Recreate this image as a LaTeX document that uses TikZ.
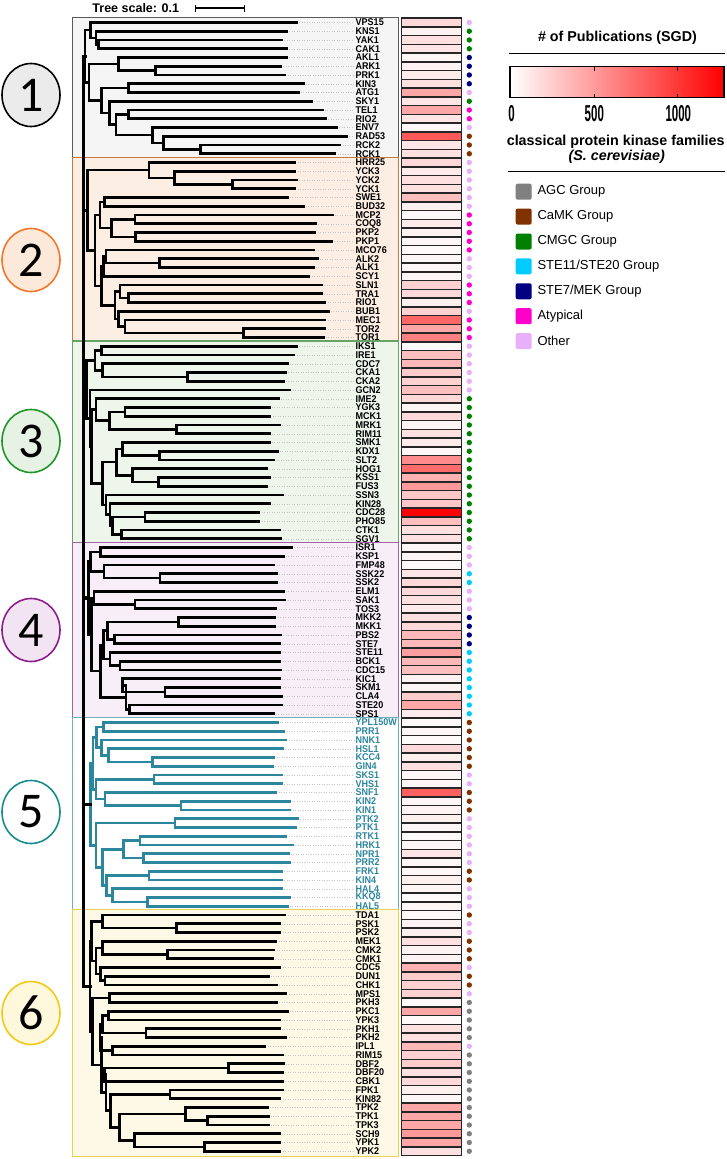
\documentclass[tikz,border=0pt]{standalone}
\usepackage{fontspec}
\setmainfont{Liberation Sans}
\newfontfamily\numfont{Carlito}
\newfontfamily\narrowfont[FakeStretch=0.5]{Liberation Sans}
\newfontfamily\leaffont[FakeStretch=0.92]{Liberation Sans}
\usepackage{tikz}
\usetikzlibrary{calc, shapes.geometric, arrows.meta}

\definecolor{agc}{RGB}{128,128,128}
\definecolor{camk}{RGB}{128,51,0}
\definecolor{cmgc}{RGB}{0,128,0}
\definecolor{steb}{RGB}{0,204,255}
\definecolor{stea}{RGB}{0,0,128}
\definecolor{atyp}{RGB}{255,0,204}
\definecolor{oth}{RGB}{232,175,250}
\definecolor{gfive}{RGB}{44,134,158}
\definecolor{boxAf}{RGB}{245,245,245}\definecolor{boxAd}{RGB}{90,90,90}
\definecolor{boxBf}{RGB}{253,238,228}\definecolor{boxBd}{RGB}{200,120,60}
\definecolor{boxCf}{RGB}{238,246,236}\definecolor{boxCd}{RGB}{100,165,100}
\definecolor{boxDf}{RGB}{247,238,247}\definecolor{boxDd}{RGB}{160,100,165}
\definecolor{boxEf}{RGB}{255,255,255}\definecolor{boxEd}{RGB}{110,175,190}
\definecolor{boxFf}{RGB}{254,249,230}\definecolor{boxFd}{RGB}{235,210,80}
\definecolor{numAf}{RGB}{235,235,235}\definecolor{numAd}{RGB}{0,0,0}
\definecolor{numBf}{RGB}{253,233,218}\definecolor{numBd}{RGB}{240,120,40}
\definecolor{numCf}{RGB}{230,242,228}\definecolor{numCd}{RGB}{30,150,40}
\definecolor{numDf}{RGB}{242,228,242}\definecolor{numDd}{RGB}{140,30,140}
\definecolor{numEf}{RGB}{255,255,255}\definecolor{numEd}{RGB}{20,140,140}
\definecolor{numFf}{RGB}{255,248,220}\definecolor{numFd}{RGB}{245,200,20}

\tikzset{
  branch/.style={line width=2.6pt, line cap=rect},
  leader/.style={gray!45, dotted, line width=0.5pt},
  leaflab/.style={anchor=west, inner sep=0pt, font=\leaffont\bfseries\fontsize{9.8}{9.8}\selectfont},
  heatcell/.style={draw=black!85, line width=1.5pt},
  grpbox/.style={line width=1.1pt},
  grpnum/.style={ellipse, minimum width=58pt, minimum height=63pt, inner sep=0pt, line width=1.6pt,
    font=\numfont\fontsize{50}{50}\selectfont},
  legsq/.style={rounded corners=2pt, minimum size=16pt, inner sep=0pt},
  legtxt/.style={anchor=west, inner sep=0pt, font=\fontsize{13}{13}\selectfont},
  legtitle/.style={font=\bfseries\fontsize{14.3}{14.3}\selectfont}
}

\newcommand\clade[5][]{%
  \path let \p1=(#4), \p2=(#5) in coordinate (#2) at (#3pt,{0.5*(\y1+\y2)});
  \draw[branch,#1] (#2) |- (#4) (#2) |- (#5);}

\begin{document}
\begin{tikzpicture}[x=1pt, y=-8.75pt]
\begin{scope}[y=-1pt, yshift=13.75pt]
\useasboundingbox (0,0) rectangle (727,1159);
% scale bar
\node[font=\bfseries\fontsize{12.5}{12.5}\selectfont] (tscale) at (135.8,8) {Tree scale: 0.1};
\coordinate (sbl) at (195,8);
\coordinate (sbr) at (245,8);
\draw[{Bar[width=7pt]}-{Bar[width=7pt]}, line width=1.3pt] (sbl) -- (sbr);
% group numbers
\foreach \n/\y/\c in {1/95/A, 2/260/B, 3/441/C, 4/630/D, 5/812/E, 6/1013/F}
  \node[grpnum, fill=num\c f, draw=num\c d] (num\n) at (31,\y) {\n};
% publications legend
\node[legtitle] (pubtitle) at (617.5,38) {\# of Publications (SGD)};
\draw[line width=1.3pt] (509,53.3) -- (725,53.3);
\node[draw, line width=1.2pt, left color=white, right color=red, minimum width=214pt,
  minimum height=31pt, inner sep=0pt] (cbar) at (617,82.3) {};
\foreach \x in {594,677.7} {
  \draw[line width=1pt] (\x,66.8) -- ++(0,4);
  \draw[line width=1pt] (\x,97.8) -- ++(0,-4);
}
\foreach \x/\t in {511.5/0, 594.3/500, 678.3/1000}
  \node[font=\narrowfont\bfseries\fontsize{23}{23}\selectfont] (tick\t) at (\x,114) {\t};
% family legend
\node[legtitle] (famtitle) at (615.7,141.7) {classical protein kinase families};
\node[legtitle, font=\bfseries\itshape\fontsize{14.3}{14.3}\selectfont] (famsub) at (616.7,156.7) {(S. cerevisiae)};
\draw[line width=1.3pt] (508.3,171.7) -- (725,171.7);
\foreach \f/\txt [count=\i from 0] in {agc/AGC Group, camk/CaMK Group, cmgc/CMGC Group,
    steb/{STE11/STE20 Group}, stea/{STE7/MEK Group}, atyp/Atypical, oth/Other} {
  \node[legsq, fill=\f] (sq-\f) at (523.7,191.7+24.9*\i) {};
  \node[legtxt] (tx-\f) at (537.3,191.7+24.9*\i) {\txt};
}
\end{scope}

% group boxes
\foreach \a/\b/\c in {0.4/16.4/A, 16.4/37.4/B, 37.4/60.4/C, 60.4/80.4/D, 80.4/102.4/E, 102.4/130.6/F}
  \draw[grpbox, fill=box\c f, draw=box\c d] (72.5,\a) rectangle (398.5,\b);

% leaves, heat map, families
\foreach \g/\t/\v/\f [count=\r] in {
  VPS15/296.7/15/oth, KNS1/286.7/5/cmgc, YAK1/281.7/12/cmgc, CAK1/286.7/10/cmgc,
  AKL1/286.7/4/stea, ARK1/280.7/5/stea, PRK1/285/8/stea, KIN3/303.3/12/stea,
  ATG1/298.3/35/oth, SKY1/311.7/10/cmgc, TEL1/322.3/35/atyp, RIO2/325.7/10/atyp,
  ENV7/336.7/3/oth, RAD53/346.7/65/camk, RCK2/340/10/camk, RCK1/335/12/camk,
  HRR25/295/15/oth, YCK3/295/8/oth, YCK2/296.7/12/oth, YCK1/295/12/oth,
  SWE1/287.3/25/oth, BUD32/303.3/6/oth, MCP2/332.3/3/atyp, COQ8/315.7/8/atyp,
  PKP2/315/5/atyp, PKP1/331.7/3/atyp, MCO76/313.3/2/atyp, ALK2/317.3/3/oth,
  ALK1/313.3/3/oth, SCY1/309/3/oth, SLN1/321.7/18/atyp, TRA1/321.7/15/atyp,
  RIO1/325/6/atyp, BUB1/328.3/18/oth, MEC1/325/60/atyp, TOR2/325/35/atyp,
  TOR1/323.3/50/atyp,
  IKS1/296.7/2/oth, IRE1/294/25/oth, CDC7/287.3/28/oth, CKA1/285.7/20/oth,
  CKA2/283.3/18/oth, GCN2/290/25/oth, IME2/278.3/15/cmgc, YGK3/269.3/4/cmgc,
  MCK1/270/15/cmgc, MRK1/279.3/4/cmgc, RIM11/269.3/12/cmgc, SMK1/269.3/8/cmgc,
  KDX1/277.3/3/cmgc, SLT2/273.3/45/cmgc, HOG1/266.7/58/cmgc, KSS1/270/30/cmgc,
  FUS3/266.7/40/cmgc, SSN3/282.7/22/cmgc, KIN28/269.3/22/cmgc, CDC28/259/100/cmgc,
  PHO85/259/25/cmgc, CTK1/280/12/cmgc, SGV1/280.7/12/cmgc,
  ISR1/291.7/3/oth, KSP1/283.3/4/oth, FMP48/274/2/oth, SSK22/276.7/10/steb,
  SSK2/276.7/15/steb, ELM1/283.3/15/oth, SAK1/285/12/oth, TOS3/276/8/oth,
  MKK2/275/12/stea, MKK1/275/15/stea, PBS2/280.7/28/stea, STE7/279.3/28/stea,
  STE11/280/38/steb, BCK1/280/28/steb, CDC15/280.7/25/steb, KIC1/279.3/5/steb,
  SKM1/280/4/steb, CLA4/281.7/20/steb, STE20/281.7/35/steb, SPS1/273.3/8/steb,
  YPL150W/277.3/2/camk, PRR1/284/3/camk, NNK1/286/2/camk, HSL1/282.7/15/camk,
  KCC4/274/6/camk, GIN4/272.7/12/camk, SKS1/281.7/3/oth, VHS1/281.7/3/oth,
  SNF1/276/62/camk, KIN2/289.3/3/camk, KIN1/290/5/camk, PTK2/297.7/6/oth,
  PTK1/296/3/oth, RTK1/286/2/oth, HRK1/292.7/3/oth, NPR1/288.3/10/oth,
  PRR2/289.3/3/oth, FRK1/281.7/3/camk, KIN4/281.7/6/camk, HAL4/281.7/4/oth,
  KKQ8/289.3/2/oth, HAL5/287.3/4/oth,
  TDA1/285/2/camk, PSK1/279.3/5/oth, PSK2/280/6/oth, MEK1/276/12/camk,
  CMK2/274/5/camk, CMK1/272.7/5/camk, CDC5/280/30/oth, DUN1/268.3/20/camk,
  CHK1/276.7/18/camk, MPS1/286/18/oth, PKH3/276.7/2/agc, PKC1/287.3/35/agc,
  YPK3/279.3/2/agc, PKH1/279.3/12/agc, PKH2/286/12/agc, IPL1/265/28/oth,
  RIM15/282.7/18/agc, DBF2/283.3/20/agc, DBF20/282.7/12/agc, CBK1/282.7/15/agc,
  FPK1/282.7/6/agc, KIN82/280/3/agc, TPK2/267.3/35/agc, TPK1/268.3/35/agc,
  TPK3/268.3/35/agc, SCH9/279.3/40/agc, YPK1/279.3/35/agc, YPK2/280/12/agc} {
  \ifnum\r>80 \ifnum\r<103 \def\lc{gfive}\else\def\lc{black}\fi\else\def\lc{black}\fi
  \coordinate (\g) at (\t,\r);
  \draw[leader] (\g) -- (354,\r);
  \node[leaflab, text=\lc] (lab-\g) at (355.5,\r) {\g};
  \draw[heatcell, fill=red!\v!white] (401.5,\r-0.5) rectangle (461.5,\r+0.5);
  \fill[fill=\f] (469.3,\r) circle[radius=2.7pt];
}

% group 1
\clade{c1a}{98.3}{YAK1}{CAK1}
\clade{c1b}{96}{KNS1}{c1a}
\clade{c1c}{90.7}{VPS15}{c1b}
\clade{c1d}{155.7}{ARK1}{PRK1}
\clade{c1e}{118.3}{AKL1}{c1d}
\clade{c1f}{128.3}{KIN3}{ATG1}
\clade{c1g}{128.3}{TEL1}{RIO2}
\clade{c1h}{200.7}{RCK2}{RCK1}
\clade{c1i}{163.3}{RAD53}{c1h}
\clade{c1j}{152.7}{ENV7}{c1i}
\clade{c1k}{116}{c1g}{c1j}
\clade{c1l}{109.3}{SKY1}{c1k}
\clade{c1m}{101.7}{c1f}{c1l}
\clade{c1n}{89}{c1e}{c1m}
\clade{g1}{85}{c1c}{c1n}
% group 2
\clade{c2a}{232.3}{YCK2}{YCK1}
\clade{c2b}{174.3}{YCK3}{c2a}
\clade{c2c}{149}{HRR25}{c2b}
\clade{c2d}{104.3}{SWE1}{BUD32}
\clade{c2e}{135}{MCP2}{COQ8}
\clade{c2f}{135.7}{PKP2}{PKP1}
\clade{c2g}{111.7}{c2e}{c2f}
\clade{c2h}{100}{c2d}{c2g}
\clade{c2i}{159.3}{ALK2}{ALK1}
\clade{c2j}{106}{MCO76}{c2i}
\clade{c2k}{103.3}{c2j}{SCY1}
\clade{c2l}{128.3}{TRA1}{RIO1}
\clade{c2m}{120}{SLN1}{c2l}
\clade{c2n}{243.3}{TOR2}{TOR1}
\clade{c2o}{125}{MEC1}{c2n}
\clade{c2p}{118.3}{BUB1}{c2o}
\clade{c2q}{115}{c2m}{c2p}
\clade{c2r}{101.7}{c2k}{c2q}
\clade{c2s}{95}{c2h}{c2r}
\clade{g2}{87.3}{c2c}{c2s}
% group 3
\clade{c3a}{101.7}{IKS1}{IRE1}
\clade{c3b}{187.3}{CKA1}{CKA2}
\clade{c3c}{102.3}{CDC7}{c3b}
\clade{c3d}{95}{c3a}{c3c}
\clade{c3e}{125}{YGK3}{MCK1}
\clade{c3f}{176.7}{MRK1}{RIM11}
\clade{c3g}{109.3}{c3e}{c3f}
\clade{c3h}{96}{IME2}{c3g}
\clade{c3i}{159.3}{KDX1}{SLT2}
\clade{c3j}{122.7}{SMK1}{c3i}
\clade{c3k}{158.3}{KSS1}{FUS3}
\clade{c3l}{132.7}{HOG1}{c3k}
\clade{c3m}{116.7}{c3j}{c3l}
\clade{c3n}{145}{CDC28}{PHO85}
\clade{c3o}{121.7}{CTK1}{SGV1}
\clade{c3p}{112.7}{c3n}{c3o}
\clade{c3q}{110}{KIN28}{c3p}
\clade{c3r}{106}{SSN3}{c3q}
\clade{c3s}{102.3}{c3m}{c3r}
\clade{c3t}{91.7}{c3h}{c3s}
\clade{c3u}{90}{GCN2}{c3t}
\clade{g3}{86.7}{c3d}{c3u}
% group 4
\clade{c4a}{100.7}{ISR1}{KSP1}
\clade{c4b}{160}{SSK22}{SSK2}
\clade{c4c}{104}{FMP48}{c4b}
\clade{c4d}{90.7}{c4a}{c4c}
\clade{c4e}{135}{SAK1}{TOS3}
\clade{c4f}{94}{ELM1}{c4e}
\clade{c4g}{178.3}{MKK2}{MKK1}
\clade{c4h}{114.3}{PBS2}{STE7}
\clade{c4i}{107.3}{c4g}{c4h}
\clade{c4j}{120}{BCK1}{CDC15}
\clade{c4k}{110}{STE11}{c4j}
\clade{c4l}{103.3}{c4i}{c4k}
\clade{c4m}{165}{SKM1}{CLA4}
\clade{c4n}{122.7}{KIC1}{c4m}
\clade{c4o}{129.3}{STE20}{SPS1}
\clade{c4p}{126}{c4n}{c4o}
\clade{c4q}{100.7}{c4l}{c4p}
\clade{c4r}{91.7}{c4f}{c4q}
\clade{g4}{88.3}{c4d}{c4r}
% group 5
\clade[draw=gfive]{c5a}{103.3}{YPL150W}{PRR1}
\clade[draw=gfive]{c5b}{152.7}{KCC4}{GIN4}
\clade[draw=gfive]{c5c}{108.3}{HSL1}{c5b}
\clade[draw=gfive]{c5d}{101.7}{NNK1}{c5c}
\clade[draw=gfive]{c5e}{96.7}{c5a}{c5d}
\clade[draw=gfive]{c5f}{154}{SKS1}{VHS1}
\clade[draw=gfive]{c5g}{181}{KIN2}{KIN1}
\clade[draw=gfive]{c5h}{105}{SNF1}{c5g}
\clade[draw=gfive]{c5i}{96}{c5f}{c5h}
\clade[draw=gfive]{c5j}{175}{PTK2}{PTK1}
\clade[draw=gfive]{c5k}{140}{RTK1}{HRK1}
\clade[draw=gfive]{c5l}{143.3}{NPR1}{PRR2}
\clade[draw=gfive]{c5m}{123.3}{c5k}{c5l}
\clade[draw=gfive]{c5n}{149}{FRK1}{KIN4}
\clade[draw=gfive]{c5o}{147.7}{KKQ8}{HAL5}
\clade[draw=gfive]{c5p}{112.7}{HAL4}{c5o}
\clade[draw=gfive]{c5q}{106.7}{c5n}{c5p}
\clade[draw=gfive]{c5r}{102.7}{c5m}{c5q}
\clade[draw=gfive]{c5s}{96}{c5j}{c5r}
\clade[draw=gfive]{c5t}{93}{c5e}{c5i}
\clade[draw=gfive]{g5}{90.7}{c5t}{c5s}
% group 6
\clade{c6a}{176.7}{PSK1}{PSK2}
\clade{c6b}{102.7}{TDA1}{c6a}
\clade{c6c}{167.7}{CMK2}{CMK1}
\clade{c6d}{102.7}{MEK1}{c6c}
\clade{c6e}{105}{DUN1}{CHK1}
\clade{c6f}{100.7}{CDC5}{c6e}
\clade{c6g}{96}{c6d}{c6f}
\clade{c6h}{91.7}{c6b}{c6g}
\clade{c6i}{109.3}{MPS1}{PKH3}
\clade{c6j}{108.3}{PKC1}{YPK3}
\clade{c6k}{146}{PKH1}{PKH2}
\clade{c6l}{102.7}{c6j}{c6k}
\clade{c6m}{112.7}{IPL1}{RIM15}
\clade{c6n}{100}{c6l}{c6m}
\clade{c6o}{228.3}{DBF2}{DBF20}
\clade{c6p}{104.3}{c6o}{CBK1}
\clade{c6q}{170}{FPK1}{KIN82}
\clade{c6r}{207.7}{TPK1}{TPK3}
\clade{c6s}{185.7}{TPK2}{c6r}
\clade{c6t}{204.3}{YPK1}{YPK2}
\clade{c6u}{134.3}{SCH9}{c6t}
\clade{c6v}{119.3}{c6s}{c6u}
\clade{c6w}{110.7}{c6q}{c6v}
\clade{c6x}{106}{c6p}{c6w}
\clade{c6y}{101.7}{c6n}{c6x}
\clade{c6z}{92.7}{c6i}{c6y}
\clade{g6}{90}{c6h}{c6z}
% root
\path let \p1=(g1), \p2=(g6) in coordinate (root) at (83.3pt,{0.5*(\y1+\y2)});
\foreach \k in {g1,g2,g3,g4,g5,g6}
  \draw[branch, line width=3.2pt] (root) |- (\k);
\end{tikzpicture}
\end{document}
